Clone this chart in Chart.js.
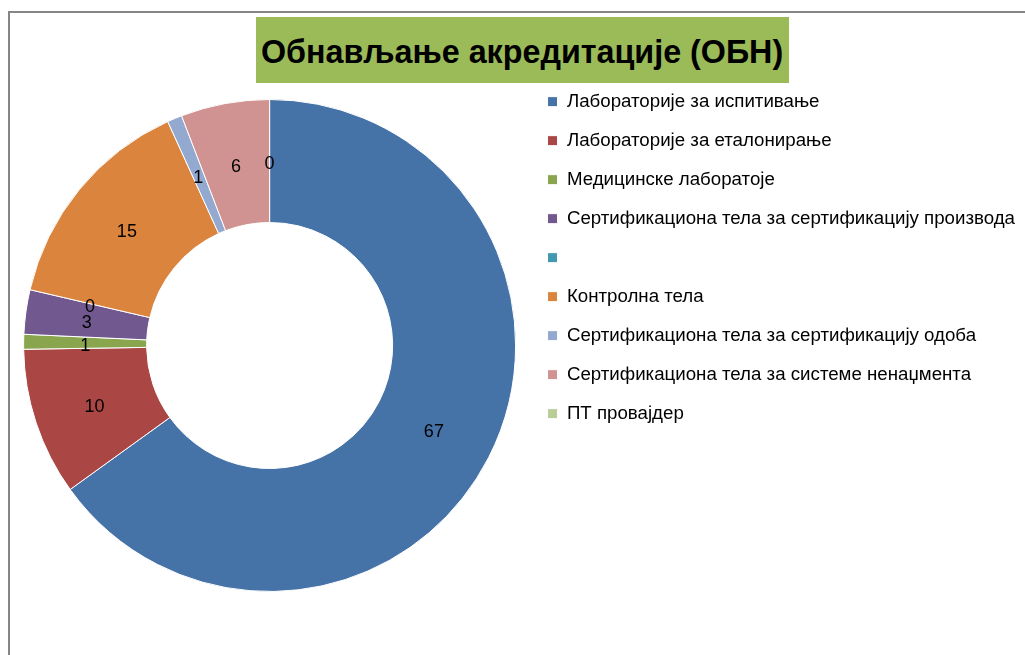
<!DOCTYPE html>
<html>
<head>
<meta charset="utf-8">
<script src="https://cdn.jsdelivr.net/npm/chart.js@4.4.0/dist/chart.umd.min.js"></script>
<style>
  html, body { margin: 0; padding: 0; background: #fff; }
  #wrap { position: relative; width: 1025px; height: 655px; overflow: hidden; }
  #frame {
    position: absolute; left: 8px; top: 11px; width: 1030px; height: 660px;
    border-left: 2px solid #868686; border-top: 2px solid #868686;
  }
  #title {
    position: absolute; left: 256px; top: 17px; width: 533px; height: 66px;
    background: #9bbb59; color: #000; overflow: hidden;
    display: flex; align-items: center; justify-content: center; white-space: nowrap;
  }
  #title span {
    display: inline-block; transform-origin: center center; line-height: 1;
    font: bold 34px "Liberation Sans", "DejaVu Sans", sans-serif;
    padding-top: 3px;
  }
  #chart { position: absolute; left: 0; top: 0; }
</style>
</head>
<body>
<div id="wrap">
  <div id="frame"></div>
  <div id="title"><span id="titleText">Обнављање акредитације (ОБН)</span></div>
  <canvas id="chart" width="1025" height="655"></canvas>
</div>
<script>
const categories = [
  'Лабораторије за испитивање',
  'Лабораторије за еталонирање',
  'Медицинске лаборатоје',
  'Сертификациона тела за сертификацију производа',
  '',
  'Контролна тела',
  'Сертификациона тела за сертификацију одоба',
  'Сертификациона тела за системе ненаџмента',
  'ПТ провајдер'
]
const values = [67, 10, 1, 3, 0, 15, 1, 6, 0]
const colors = ['#4572a7', '#aa4643', '#89a54e', '#71588f', '#4198af', '#db843d', '#93a9cf', '#d19392', '#b9cd96']

// fit the bold title to the width it has in the original
const titleText = document.getElementById('titleText')
titleText.style.transform = `scaleX(${522 / titleText.offsetWidth})`

const labelFont = '18px "Liberation Sans", "DejaVu Sans", sans-serif'

// value labels in the middle of each ring segment
const valueLabels = {
  id: 'valueLabels',
  afterDatasetsDraw(chart) {
    const ctx = chart.ctx
    const meta = chart.getDatasetMeta(0)
    ctx.save()
    ctx.font = labelFont
    ctx.fillStyle = '#000'
    ctx.textAlign = 'center'
    ctx.textBaseline = 'middle'
    meta.data.forEach((arc, i) => {
      const p = arc.tooltipPosition()
      ctx.fillText(String(values[i]), p.x, p.y + 3)
    })
    ctx.restore()
  }
}

new Chart(document.getElementById('chart'), {
  type: 'doughnut',
  data: {
    labels: categories,
    datasets: [{
      data: values,
      backgroundColor: colors,
      borderColor: '#ffffff',
      borderWidth: 1
    }]
  },
  options: {
    responsive: false,
    animation: false,
    radius: 246,
    cutout: '50%',
    layout: { padding: { top: 72, bottom: 36, left: 12, right: 0 } },
    plugins: {
      tooltip: { enabled: false },
      legend: {
        position: 'right',
        align: 'start',
        labels: {
          color: '#000',
          font: { family: '"Liberation Sans", "DejaVu Sans", sans-serif', size: 18.7 },
          boxWidth: 10,
          boxHeight: 10,
          padding: 20.3
        }
      }
    }
  },
  plugins: [valueLabels]
})
</script>
</body>
</html>
